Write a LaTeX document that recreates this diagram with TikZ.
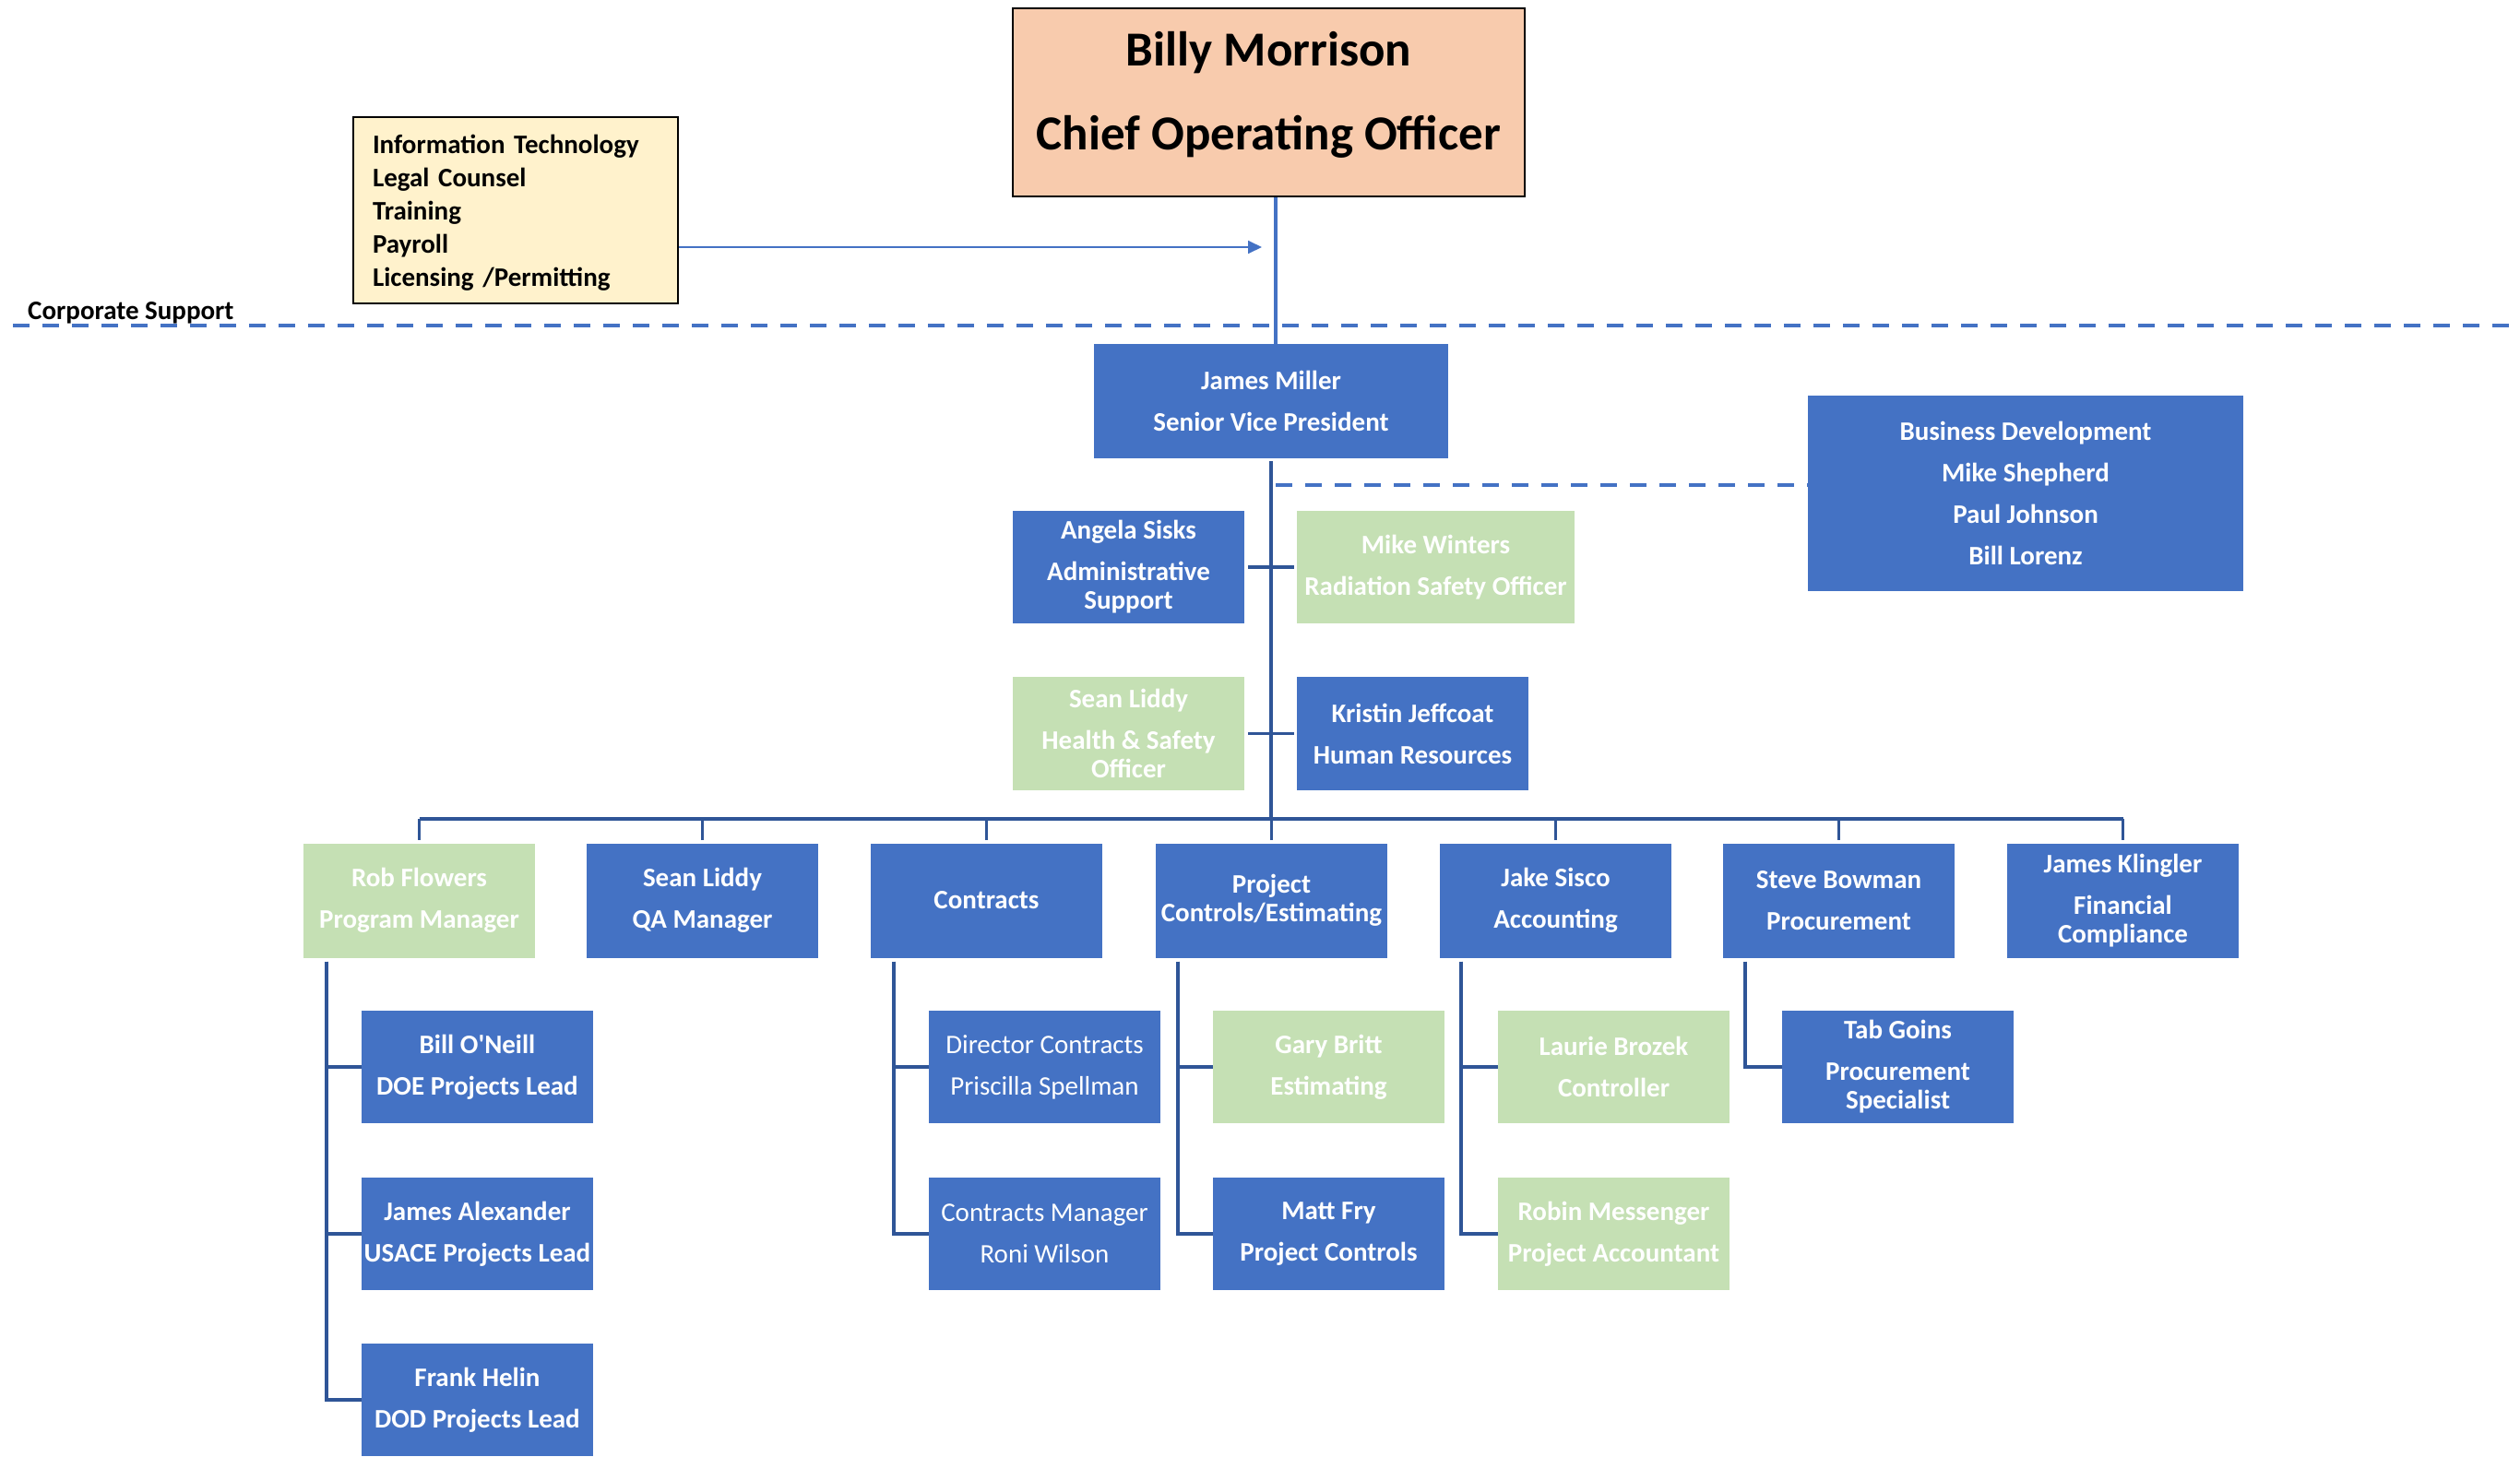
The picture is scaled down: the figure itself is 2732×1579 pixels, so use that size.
\documentclass[tikz,border=0pt]{standalone}
\usepackage{fontspec}
\setmainfont{Carlito}
\usetikzlibrary{calc,arrows.meta}
\definecolor{cblue}{HTML}{4472C4}
\definecolor{cgreen}{HTML}{C5E0B4}
\definecolor{cpeach}{HTML}{F8CBAD}
\definecolor{ccream}{HTML}{FFF2CC}
\definecolor{cline}{HTML}{2F5597}
\tikzset{
  box/.style={rectangle, inner sep=0pt, minimum width=251pt, minimum height=124pt, align=center, text=white, font=\bfseries\fontsize{29}{31}\selectfont},
  bluebox/.style={box, fill=cblue},
  greenbox/.style={box, fill=cgreen},
  regbox/.style={bluebox, font=\mdseries\fontsize{29}{31}\selectfont},
  orgline/.style={draw=cline, line width=3.5pt},
  dashline/.style={draw=cblue, line width=4pt, dash pattern=on 18pt off 14pt},
  topline/.style={draw=cblue, line width=3.5pt},
  arrowline/.style={draw=cblue, line width=1.8pt, -{Triangle[length=15pt,width=14pt]}},
}
\begin{document}
\begin{tikzpicture}[x=1pt,y=-1pt]
\useasboundingbox (0,0) rectangle (2732,1579);

% top
\node[draw=black, line width=2.5pt, fill=cpeach, minimum width=555pt, minimum height=204pt, inner sep=0pt] (billy) at (1375.5,111) {};
\node[font=\bfseries\fontsize{53}{62}\selectfont, align=center, inner sep=0pt] (billytxt) at (1375.5,103) {Billy Morrison\\[29pt]Chief Operating Officer};

\node[draw=black, line width=2.5pt, fill=ccream, minimum width=352pt, minimum height=202pt, inner xsep=21pt, inner ysep=0pt, text width=310pt, align=left, font=\bfseries\fontsize{29}{36}\selectfont] (cs) at (559,228) {\parbox{310pt}{\vspace*{6pt}Information Technology\\Legal Counsel\\Training\\Payroll\\Licensing /Permitting}};

\node[anchor=west, inner sep=0pt, font=\bfseries\fontsize{29}{31}\selectfont] (cslabel) at (30,339) {Corporate Support};

% level 2
\node[bluebox, minimum width=384pt] (svp) at (1378,435) {James Miller\\[14pt]Senior Vice President};
\node[bluebox, minimum width=472pt, minimum height=212pt] (bd) at (2196,535) {Business Development\\[14pt]Mike Shepherd\\[14pt]Paul Johnson\\[14pt]Bill Lorenz};
\node[bluebox, minimum height=122pt] (angela) at (1223.5,615) {Angela Sisks\\[14pt]Administrative\\Support};
\node[greenbox, minimum width=301pt, minimum height=122pt] (winters) at (1556.5,615) {Mike Winters\\[14pt]Radiation Safety Officer};
\node[greenbox, minimum height=123pt] (liddyhs) at (1223.5,795.5) {Sean Liddy\\[14pt]Health \& Safety\\Officer};
\node[bluebox, minimum height=123pt] (kristin) at (1531.5,795.5) {Kristin Jeffcoat\\[14pt]Human Resources};

% row
\node[greenbox] (r1) at (454.5,976.5) {Rob Flowers\\[14pt]Program Manager};
\node[bluebox] (r2) at (761.5,976.5) {Sean Liddy\\[14pt]QA Manager};
\node[bluebox] (r3) at (1069.5,976.5) {Contracts};
\node[bluebox] (r4) at (1378.5,976.5) {Project\\Controls/Estimating};
\node[bluebox] (r5) at (1686.5,976.5) {Jake Sisco\\[14pt]Accounting};
\node[bluebox] (r6) at (1993.5,976.5) {Steve Bowman\\[14pt]Procurement};
\node[bluebox] (r7) at (2301.5,976.5) {James Klingler\\[14pt]Financial\\Compliance};

% children
\node[bluebox, minimum height=122pt] (c11) at (517.5,1157) {Bill O\textquotesingle Neill\\[14pt]DOE Projects Lead};
\node[bluebox, minimum height=122pt] (c12) at (517.5,1338) {James Alexander\\[14pt]USACE Projects Lead};
\node[bluebox, minimum height=122pt] (c13) at (517.5,1518) {Frank Helin\\[14pt]DOD Projects Lead};
\node[regbox, minimum height=122pt] (c31) at (1132.5,1157) {Director Contracts\\[14pt]Priscilla Spellman};
\node[regbox, minimum height=122pt] (c32) at (1132.5,1338) {Contracts Manager\\[14pt]Roni Wilson};
\node[greenbox, minimum height=122pt] (c41) at (1440.5,1157) {Gary Britt\\[14pt]Estimating};
\node[bluebox, minimum height=122pt] (c42) at (1440.5,1338) {Matt Fry\\[14pt]Project Controls};
\node[greenbox, minimum height=122pt] (c51) at (1749.5,1157) {Laurie Brozek\\[14pt]Controller};
\node[greenbox, minimum height=122pt] (c52) at (1749.5,1338) {Robin Messenger\\[14pt]Project Accountant};
\node[bluebox, minimum height=122pt] (c61) at (2057.5,1157) {Tab Goins\\[14pt]Procurement\\Specialist};

% connectors top
\coordinate (topj) at (1383,373);
\draw[topline] (billy.south -| topj) -- (topj);
\coordinate (arrtip) at (1368,268);
\draw[arrowline] (cs.east |- arrtip) -- (arrtip);
\coordinate (dl) at (14,353);
\coordinate (dr) at (2732,353);
\draw[dashline] (dl) -- (dr);

% spine and bus
\coordinate (bus) at (1378,888);
\draw[orgline] ($(svp.south)+(0,3)$) -- (svp.south |- bus);
\draw[orgline] (r1.north |- bus) -- (r7.north |- bus);
\foreach \r in {r1,r2,r3,r4,r5,r6,r7}
  \draw[orgline] (\r.north |- bus) -- ($(\r.north)+(0,-3)$);
\coordinate (bdj) at (1383,526);
\draw[dashline] (bdj) -- (bd.west |- bdj);
\draw[orgline] ($(angela.east)+(4,0)$) -- ($(winters.west)+(-3,0)$);
\draw[orgline] ($(liddyhs.east)+(4,0)$) -- ($(kristin.west)+(-3,0)$);

% children spines
\coordinate (s1) at ($(r1.south west)+(25,4)$);
\draw[orgline] (s1) |- (c11.west);
\draw[orgline] (s1) |- (c12.west);
\draw[orgline] (s1) |- (c13.west);
\coordinate (s3) at ($(r3.south west)+(25,4)$);
\draw[orgline] (s3) |- (c31.west);
\draw[orgline] (s3) |- (c32.west);
\coordinate (s4) at ($(r4.south west)+(24,4)$);
\draw[orgline] (s4) |- (c41.west);
\draw[orgline] (s4) |- (c42.west);
\coordinate (s5) at ($(r5.south west)+(23,4)$);
\draw[orgline] (s5) |- (c51.west);
\draw[orgline] (s5) |- (c52.west);
\coordinate (s6) at ($(r6.south west)+(24,4)$);
\draw[orgline] (s6) |- (c61.west);
\end{tikzpicture}
\end{document}
